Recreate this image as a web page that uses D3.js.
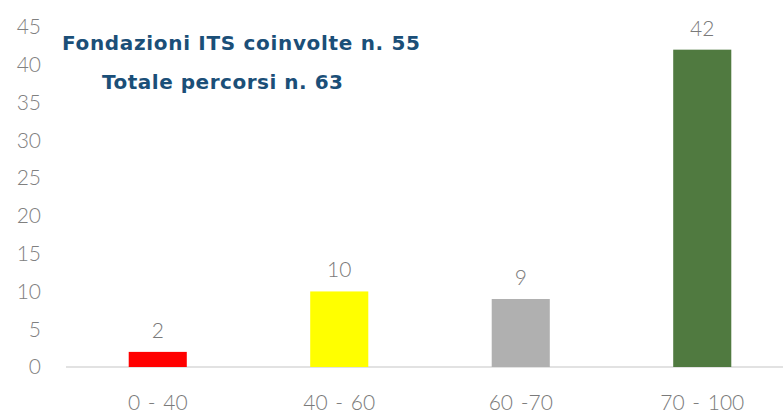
<!DOCTYPE html>
<html>
<head>
<meta charset="utf-8">
<script src="https://cdn.jsdelivr.net/npm/d3@7"></script>
<style>
  body { margin: 0; background: #fff; }
  text { font-family: "Lato", "Open Sans", sans-serif; }
  text.note { font-family: "DejaVu Sans", sans-serif; }
</style>
</head>
<body>
<svg id="chart" width="783" height="413"></svg>
<script>
// data
var categories = ["0 - 40", "40 - 60", "60 -70", "70 - 100"];
var values = [2, 10, 9, 42];
var barColors = ["#ff0000", "#ffff00", "#b0b0b0", "#507a40"];
var yTicks = [0, 5, 10, 15, 20, 25, 30, 35, 40, 45];
var notes = ["Fondazioni ITS coinvolte n. 55", "Totale percorsi n. 63"];

var svg = d3.select("#chart");

var x = d3.scaleBand()
    .domain(categories)
    .range([67, 793])
    .paddingInner(0.68)
    .paddingOuter(0.34);

var y = d3.scaleLinear()
    .domain([0, 45])
    .range([367, 27]);

// y tick labels, no axis line
svg.append("g")
    .selectAll("text")
    .data(yTicks)
    .join("text")
    .attr("x", 41)
    .attr("y", d => y(d))
    .attr("dy", "0.35em")
    .attr("text-anchor", "end")
    .attr("fill", "#808080")
    .attr("font-size", 21)
    .attr("font-weight", 300)
    .text(d => d);

// baseline
svg.append("line")
    .attr("x1", 66).attr("x2", 783)
    .attr("y1", y(0)).attr("y2", y(0))
    .attr("stroke", "#d9d9d9")
    .attr("stroke-width", 1.5);

svg.append("g")
    .selectAll("rect")
    .data(values)
    .join("rect")
    .attr("x", (d, i) => x(categories[i]))
    .attr("width", x.bandwidth())
    .attr("y", d => y(d))
    .attr("height", d => y(0) - y(d))
    .attr("fill", (d, i) => barColors[i]);

// value labels
svg.append("g")
    .selectAll("text")
    .data(values)
    .join("text")
    .attr("x", (d, i) => x(categories[i]) + x.bandwidth() / 2)
    .attr("y", d => y(d) - 14)
    .attr("text-anchor", "middle")
    .attr("fill", "#7a7a7a")
    .attr("font-size", 21)
    .attr("font-weight", 300)
    .text(d => d);

// x labels
svg.append("g")
    .selectAll("text")
    .data(categories)
    .join("text")
    .attr("x", d => x(d) + x.bandwidth() / 2)
    .attr("y", 403)
    .attr("dy", "0.35em")
    .attr("text-anchor", "middle")
    .attr("fill", "#7a7a7a")
    .attr("font-size", 21)
    .attr("font-weight", 300)
    .attr("word-spacing", 2)
    .text(d => d);

// annotation
svg.append("text")
    .attr("class", "note")
    .attr("x", 62).attr("y", 43).attr("dy", "0.35em")
    .attr("fill", "#1b4f78")
    .attr("font-size", 20)
    .attr("font-weight", "bold")
    .attr("textLength", 358)
    .text(notes[0]);
svg.append("text")
    .attr("class", "note")
    .attr("x", 102).attr("y", 82).attr("dy", "0.35em")
    .attr("fill", "#1b4f78")
    .attr("font-size", 20)
    .attr("font-weight", "bold")
    .attr("textLength", 241)
    .text(notes[1]);
</script>
</body>
</html>
